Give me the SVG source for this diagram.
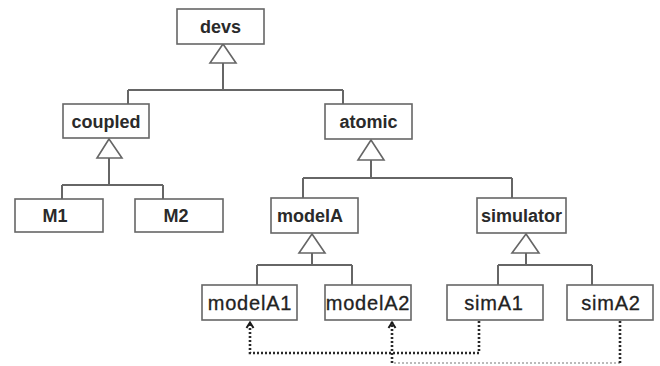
<svg xmlns="http://www.w3.org/2000/svg" width="660" height="366" viewBox="0 0 660 366">
<defs>
<style>
.box{fill:#fff;stroke:#666;stroke-width:1.6}
.lbl{font-family:"Liberation Sans",Arial,sans-serif;font-size:18px;font-weight:bold;fill:#2a2a2a;text-anchor:middle}
.lbl2{font-family:"Liberation Sans",Arial,sans-serif;font-size:20px;fill:#222;text-anchor:middle;letter-spacing:0.8px;stroke:#222;stroke-width:0.3}
.ln{fill:none;stroke:#666;stroke-width:2}
.tri{fill:#fff;stroke:#666;stroke-width:1.6;stroke-linejoin:miter}
.dot{fill:none;stroke:#2a2a2a;stroke-width:2.6;stroke-dasharray:2 2}
.dotl{fill:none;stroke:#777;stroke-width:1.2;stroke-dasharray:2 2}
</style>
<marker id="arr" viewBox="0 0 10 10" refX="5" refY="1" markerWidth="10" markerHeight="10" markerUnits="userSpaceOnUse" orient="0">
<path d="M1.5,7 L5,1.5 L8.5,7" fill="none" stroke="#1a1a1a" stroke-width="2"/>
</marker>
</defs>
<rect width="660" height="366" fill="#fff"/>
<g id="connectors">
<path class="ln" d="M223,63 V90 M128,90 H343 M128,90 V104 M343,90 V104"/>
<polygon class="tri" points="223,44 210,63 236,63"/>
<path class="ln" d="M109,158 V185 M62,185 H163 M62,185 V199 M163,185 V199"/>
<polygon class="tri" points="109,139 97,158 122,158"/>
<path class="ln" d="M371,160 V178 M303,178 H512 M303,178 V198 M512,178 V198"/>
<polygon class="tri" points="371,140 358,160 384,160"/>
<path class="ln" d="M312,253 V265 M257,265 H352 M257,265 V285 M352,265 V285"/>
<polygon class="tri" points="312,234 299,253 325,253"/>
<path class="ln" d="M526,253 V265 M498,265 H592 M498,265 V285 M592,265 V285"/>
<polygon class="tri" points="526,234 512,253 539,253"/>
<path class="dotl" d="M620,363 H392"/>
<path class="dot" d="M620,321 V363"/>
<path class="dot" d="M392,363 V322" marker-end="url(#arr)"/>
<path class="dot" d="M479,321 V353 H250 V322" marker-end="url(#arr)"/>
</g>
<g id="devs"><rect class="box" x="177" y="9" width="87" height="35"/><text class="lbl" x="220.5" y="33">devs</text></g>
<g id="coupled"><rect class="box" x="63" y="104" width="86" height="34"/><text class="lbl" x="106" y="127.5">coupled</text></g>
<g id="M1"><rect class="box" x="15" y="199" width="88" height="33"/><text class="lbl" x="55" y="222">M1</text></g>
<g id="M2"><rect class="box" x="135" y="199" width="88" height="33"/><text class="lbl" x="176" y="222">M2</text></g>
<g id="atomic"><rect class="box" x="325" y="104" width="87" height="35"/><text class="lbl" x="368.5" y="128">atomic</text></g>
<g id="modelA"><rect class="box" x="271" y="198" width="87" height="35"/><text class="lbl" x="310" y="222">modelA</text></g>
<g id="simulator"><rect class="box" x="477" y="198" width="89" height="35"/><text class="lbl" x="521.5" y="222">simulator</text></g>
<g id="modelA1"><rect class="box" x="202" y="285" width="95" height="35"/><text class="lbl2" x="250" y="310">modelA1</text></g>
<g id="modelA2"><rect class="box" x="325" y="285" width="86" height="35"/><text class="lbl2" x="368" y="310">modelA2</text></g>
<g id="simA1"><rect class="box" x="447" y="285" width="96" height="35"/><text class="lbl2" x="494" y="310">simA1</text></g>
<g id="simA2"><rect class="box" x="567" y="285" width="86" height="35"/><text class="lbl2" x="611" y="310">simA2</text></g>
</svg>
